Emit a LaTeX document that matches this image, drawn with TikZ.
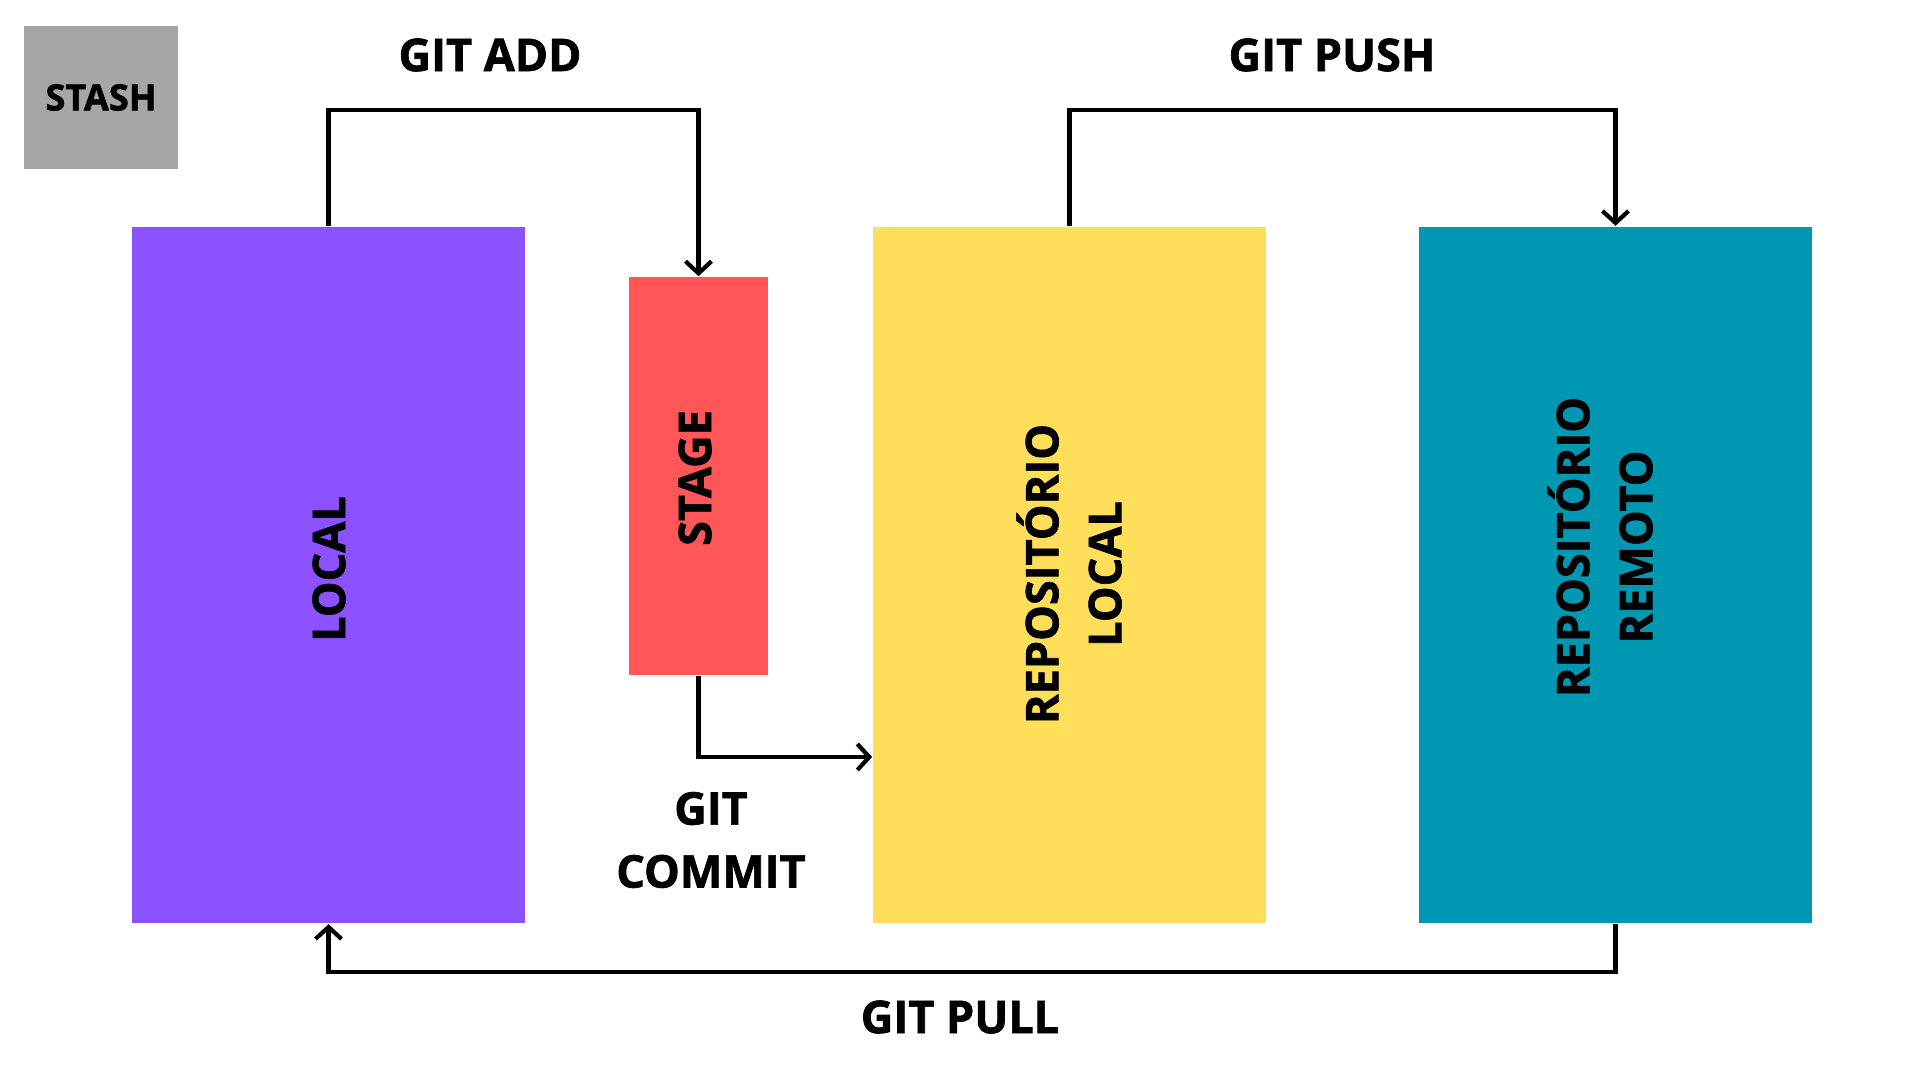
\documentclass[tikz,border=0pt]{standalone}
\usepackage{fontspec}
\setmainfont{Open Sans}[BoldFeatures={FakeBold=1.5}]
\usepackage{graphicx}
\usetikzlibrary{arrows.meta}
\definecolor{cpurple}{HTML}{8C52FF}
\definecolor{cred}{HTML}{FF5757}
\definecolor{cyellow}{HTML}{FFDE59}
\definecolor{cteal}{HTML}{0097B2}
\definecolor{cgray}{HTML}{A6A6A6}
\tikzset{
  box/.style={draw=none, inner sep=0pt, minimum width=3.93cm, minimum height=6.965cm},
  lbl/.style={inner sep=0pt, align=center, font=\bfseries\fontsize{12.8}{17.9}\selectfont},
  flow/.style={line width=0.42mm, -{Straight Barb[length=1.2mm,width=2.6mm,line width=0.42mm]}},
}
\begin{document}
\begin{tikzpicture}[x=0.01cm,y=-0.01cm]
\useasboundingbox[fill=white] (0,0) rectangle (1920,1080);
% boxes
\node[inner sep=0pt, minimum width=1.53cm, minimum height=1.43cm, fill=cgray] (stash) at (101,97.5) {};
\node[box, fill=cpurple] (local) at (328.5,575) {};
\node[inner sep=0pt, minimum width=1.39cm, minimum height=3.98cm, fill=cred] (stage) at (698.5,476) {};
\node[box, fill=cyellow] (repo) at (1069.5,575) {};
\node[box, fill=cteal] (remote) at (1615.5,575) {};
% box labels
\node[lbl, font=\bfseries\fontsize{10.3}{12}\selectfont] (tstash) at (stash.center) {STASH};
\node[lbl, rotate=90] (tlocal) at (329,569) {LOCAL};
\node[lbl, rotate=90] (tstage) at (695,478) {STAGE};
\node[lbl, rotate=90] (trepo) at (1069,574) {REPOSITÓRIO\\LOCAL};
\node[lbl, rotate=90] (tremote) at (1600,547) {REPOSITÓRIO\\REMOTO};
% connector labels
\node[lbl] (tadd) at (490,55) {GIT ADD};
\node[lbl] (tpush) at (1332,55) {GIT PUSH};
\node[lbl] (tcommit) at (711,840) {GIT\\COMMIT};
\node[lbl] (tpull) at (960,1017) {GIT PULL};
% connectors
\draw[flow] (local.north) -- ++(0,-116) -| (stage.north);
\draw[flow] (stage.south) |- (repo.west |- 0,757);
\draw[flow] (repo.north) -- ++(0,-116) -| (remote.north);
\draw[flow] (remote.south) -- ++(0,48) -| (local.south);
\end{tikzpicture}
\end{document}
